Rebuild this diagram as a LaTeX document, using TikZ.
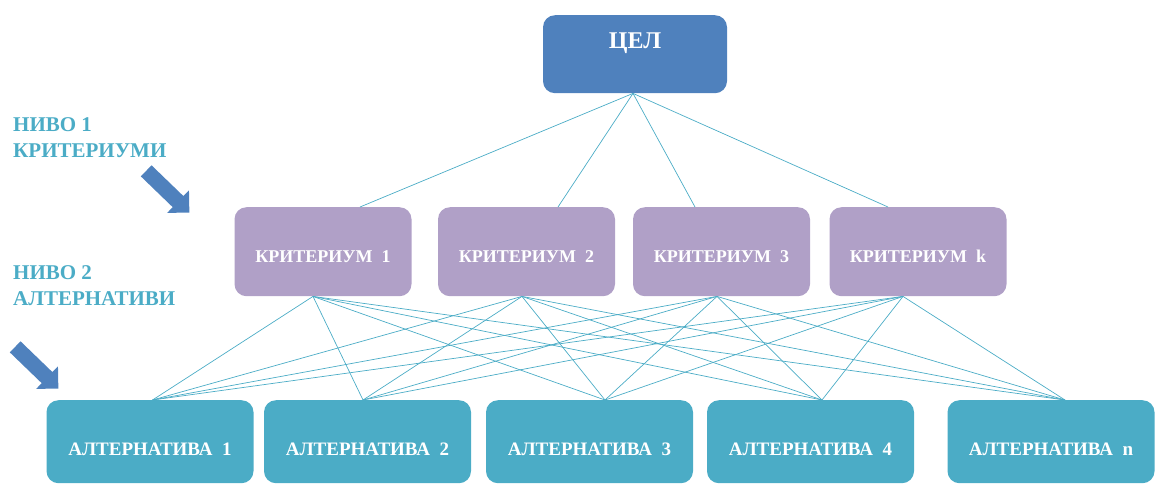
\documentclass[tikz,border=0pt]{standalone}
\usepackage{fontspec}
\setmainfont{Liberation Serif}
\usetikzlibrary{shapes.arrows}
\definecolor{goalblue}{RGB}{79,129,189}
\definecolor{critviolet}{RGB}{176,160,199}
\definecolor{altteal}{RGB}{75,172,198}
\definecolor{levelcyan}{RGB}{75,172,198}
\tikzset{
  box/.style={rounded corners=12pt,inner sep=0pt,text=white,
    font=\bfseries\fontsize{18}{20}\selectfont},
  goalbox/.style={box,fill=goalblue,minimum width=184pt,
    text height=33pt,text depth=45pt,font=\bfseries\fontsize{24}{26}\selectfont},
  critbox/.style={box,fill=critviolet,minimum width=177pt,
    text height=55pt,text depth=34pt},
  altbox/.style={box,fill=altteal,minimum width=207pt,
    text height=55pt,text depth=28pt,font=\bfseries\fontsize{19}{21}\selectfont},
  link/.style={altteal,line width=0.7pt},
  levellabel/.style={levelcyan,align=left,inner sep=0pt,anchor=north west,
    font=\bfseries\fontsize{21}{26}\selectfont},
  levelarrow/.style={single arrow,fill=goalblue,inner xsep=0pt,inner ysep=7.5pt,
    minimum height=60pt,minimum width=31pt,single arrow head extend=8pt}
}
\begin{document}
\begin{tikzpicture}[x=1pt,y=-1pt]
  \useasboundingbox (0,0) rectangle (1158,483);
  \node[goalbox] (goal) at (635,15) [anchor=north] {ЦЕЛ};
  \foreach \i/\x/\t in {1/323/1,2/526.5/2,3/721.5/3,4/918/k}
    \node[critbox,anchor=north] (c\i) at (\x,207) {КРИТЕРИУМ~~\t};
  \foreach \j/\x/\t in {1/150/1,2/367.5/2,3/589.5/3,4/810.5/4,5/1051/n}
    \node[altbox,anchor=north] (a\j) at (\x,400) {АЛТЕРНАТИВА~~\t};
  \foreach \i/\dx in {1/37,2/31.5,3/-26.5,4/-30}
    \draw[link] ([xshift=-2pt]goal.south) -- ([xshift=\dx pt]c\i.north);
  \foreach \i/\dx in {1/-10,2/-4.5,3/-4.5,4/-15}
    \foreach \j/\ex in {1/2.5,2/-4.5,3/15.5,4/11.5,5/14}
      \draw[link] ([xshift=\dx pt]c\i.south) -- ([xshift=\ex pt]a\j.north);
  \node[levellabel] (lvl1) at (13,117) {НИВО 1\\КРИТЕРИУМИ};
  \node[levellabel] (lvl2) at (13,265) {НИВО 2\\АЛТЕРНАТИВИ};
  \node[levelarrow,rotate=-44] (arr1) at (165,189) {};
  \node[levelarrow,rotate=-44] (arr2) at (34,365) {};
\end{tikzpicture}
\end{document}
